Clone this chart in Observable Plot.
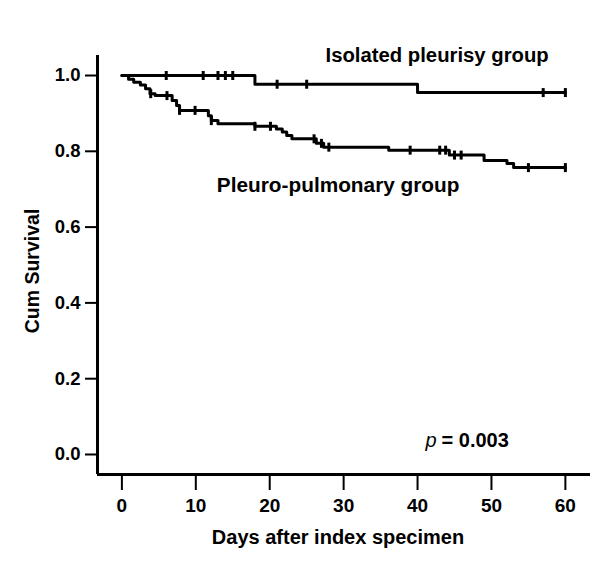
<!DOCTYPE html>
<html>
<head>
<meta charset="utf-8">
<script src="https://cdn.jsdelivr.net/npm/d3@7"></script>
<script src="https://cdn.jsdelivr.net/npm/@observablehq/plot@0.6"></script>
<style>
  html, body { margin: 0; padding: 0; background: #fff; }
</style>
</head>
<body>
<div id="chart"></div>
<script>
// ---- Data ----
const xTicks = [0, 10, 20, 30, 40, 50, 60];
const yTicks = [0, 0.2, 0.4, 0.6, 0.8, 1.0];

// Isolated pleurisy group: step times and survival after each step
const isolatedTimes = [0, 18, 40, 60];
const isolatedSurv  = [1.0, 0.977, 0.955, 0.955];
const isolatedCensored = [6, 11, 13, 14, 15, 21, 25, 57, 60];

// Pleuro-pulmonary group
const pleuroTimes = [0, 0.9, 1.6, 2.5, 3.2, 3.8, 4.5, 6.8, 7.4, 7.8, 11.7, 12.1, 13.0, 18.0, 20.9, 21.7, 22.3, 23.0, 26.3, 27.3, 36.1, 44.3, 49.0, 52.1, 53.0, 60];
const pleuroSurv  = [1.0, 0.99, 0.982, 0.975, 0.965, 0.952, 0.947, 0.934, 0.921, 0.908, 0.894, 0.881, 0.873, 0.866, 0.859, 0.851, 0.842, 0.833, 0.821, 0.811, 0.803, 0.790, 0.776, 0.768, 0.757, 0.757];
const pleuroCensored = [3.9, 6.1, 7.8, 9.9, 12.1, 18.0, 20.1, 26.0, 27.0, 28.0, 39.0, 43.0, 43.8, 45.0, 45.9, 55.0, 60];

const groupLabels = ["Isolated pleurisy group", "Pleuro-pulmonary group"];

// ---- Build tables ----
const curve = (times, surv, group) => times.map((t, i) => ({time: t, surv: surv[i], group}));
const stepAt = (times, surv, t) => {
  let v = surv[0];
  for (let i = 0; i < times.length; i++) if (times[i] <= t) v = surv[i];
  return v;
};
const censor = (cs, times, surv) => cs.map(t => ({time: t, surv: stepAt(times, surv, t)}));

const isolated = curve(isolatedTimes, isolatedSurv, groupLabels[0]);
const pleuro = curve(pleuroTimes, pleuroSurv, groupLabels[1]);
const censorPts = [
  ...censor(isolatedCensored, isolatedTimes, isolatedSurv),
  ...censor(pleuroCensored, pleuroTimes, pleuroSurv)
];

const xDomain = [-3.3, 63.4];
const yDomain = [-0.0528, 1.0528];

// vertical tick symbol for censored observations
const vtick = {
  draw(context, size) {
    const h = Math.sqrt(size / Math.PI);
    context.moveTo(0, -h);
    context.lineTo(0, h);
  }
};

const font = "'Liberation Sans', Arial, Helvetica, sans-serif";

const chart = Plot.plot({
  width: 600,
  height: 562,
  marginLeft: 97,
  marginRight: 10,
  marginTop: 55,
  marginBottom: 88,
  style: {fontFamily: font, background: "#fff", color: "#000", overflow: "visible"},
  x: {domain: xDomain},
  y: {domain: yDomain},
  marks: [
    Plot.axisY({ticks: yTicks, tickFormat: d3.format(".1f"), tickSize: 12, tickPadding: 5,
      fontSize: 18.5, fontWeight: "bold", strokeWidth: 2, label: null}),
    Plot.axisX({ticks: xTicks, tickSize: 16, tickPadding: 8,
      fontSize: 19, fontWeight: "bold", strokeWidth: 2, label: null}),
    Plot.ruleX([xDomain[0]], {stroke: "#000", strokeWidth: 3}),
    Plot.ruleY([yDomain[0]], {stroke: "#000", strokeWidth: 3}),
    Plot.line(isolated, {x: "time", y: "surv", curve: "step-after", stroke: "#000", strokeWidth: 3}),
    Plot.line(pleuro, {x: "time", y: "surv", curve: "step-after", stroke: "#000", strokeWidth: 3}),
    Plot.dot(censorPts, {x: "time", y: "surv", symbol: vtick, r: 4.5, stroke: "#000", strokeWidth: 3}),
    // annotations
    Plot.text([groupLabels[0]], {x: 42.65, y: 1.0528, text: d => d, fontSize: 20.3, fontWeight: "bold", textAnchor: "middle", lineAnchor: "middle"}),
    Plot.text([groupLabels[1]], {x: 29.26, y: 0.7098, text: d => d, fontSize: 20.8, fontWeight: "bold", textAnchor: "middle", lineAnchor: "middle"}),
    Plot.text(["p"], {x: 42.84, y: 0.037, text: d => d, fontSize: 20, fontStyle: "italic", textAnchor: "end", lineAnchor: "middle", dx: -2}),
    Plot.text(["= 0.003"], {x: 42.84, y: 0.037, text: d => d, fontSize: 20, fontWeight: "bold", textAnchor: "start", lineAnchor: "middle", dx: 3}),
    // axis titles
    Plot.text(["Days after index specimen"], {frameAnchor: "bottom", dy: 63, dx: -6, text: d => d, fontSize: 20, fontWeight: "bold", textAnchor: "middle", lineAnchor: "middle"}),
    Plot.text(["Cum Survival"], {frameAnchor: "left", rotate: -90, dx: -65, dy: 6, text: d => d, fontSize: 19.5, fontWeight: "bold", textAnchor: "middle", lineAnchor: "middle"})
  ]
});
document.getElementById("chart").appendChild(chart);
</script>
</body>
</html>
